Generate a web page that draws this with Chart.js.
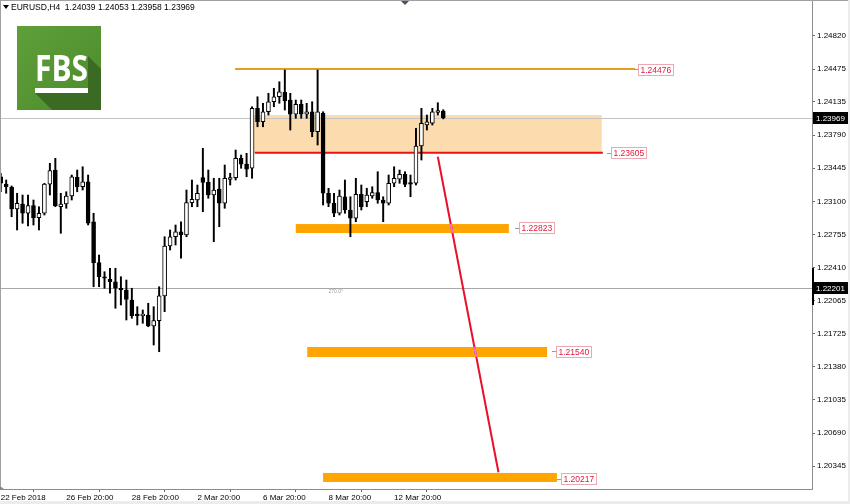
<!DOCTYPE html>
<html><head><meta charset="utf-8">
<script src="https://cdn.jsdelivr.net/npm/chart.js@4.4.1/dist/chart.umd.min.js"></script>
<style>html,body{margin:0;padding:0;background:#fff;overflow:hidden}#wrap{position:relative;width:850px;height:504px}</style>
</head><body><div id="wrap"><canvas id="c" width="850" height="504"></canvas></div>
<script>
// ---------- data ----------
const symbolTitle = 'EURUSD,H4';
const headerValues = ['1.24039', '1.24053', '1.23958', '1.23969'];

const opens  = [1.23356,1.23280,1.23246,1.23020,1.23072,1.22976,1.23055,1.22930,1.22976,1.23280,
                1.23426,1.23044,1.23072,1.23156,1.23350,1.23252,1.23304,1.22888,1.22462,1.22316,
                1.22289,1.22264,1.22196,1.22178,1.22074,1.21918,1.21911,1.21918,1.21804,1.21859,
                1.22116,1.22636,1.22732,1.22784,1.22750,1.23086,1.23114,1.23346,1.23298,1.23166,
                1.23225,1.23080,1.23329,1.23346,1.23548,1.23488,1.23444,1.24068,1.23928,1.24032,
                1.24136,1.24188,1.24234,1.24154,1.24008,1.24109,1.24008,1.24032,1.23824,1.24016,
                1.23184,1.23080,1.22976,1.23148,1.23010,1.22924,1.23173,1.23096,1.23156,1.23190,
                1.23114,1.23080,1.23288,1.23332,1.23381,1.23294,1.23288,1.23676,1.23894,1.23912,
                1.24026,1.24039];
const highs  = [1.23392,1.23322,1.23260,1.23184,1.23166,1.23166,1.23114,1.23044,1.23288,1.23496,
                1.23548,1.23184,1.23200,1.23374,1.23426,1.23460,1.23374,1.22976,1.22542,1.22368,
                1.22404,1.22404,1.22316,1.22282,1.22196,1.22004,1.21970,1.22040,1.22004,1.22212,
                1.22732,1.22802,1.22854,1.22888,1.23218,1.23322,1.23270,1.23652,1.23426,1.23340,
                1.23340,1.23478,1.23392,1.23634,1.23582,1.23600,1.24084,1.24188,1.24120,1.24224,
                1.24276,1.24344,1.24466,1.24224,1.24154,1.24154,1.24120,1.24136,1.24466,1.24032,
                1.23236,1.23184,1.23218,1.23322,1.23148,1.23340,1.23270,1.23236,1.23252,1.23408,
                1.23148,1.23374,1.23460,1.23426,1.23408,1.23374,1.23860,1.24068,1.23998,1.24068,
                1.24126,1.24053];
const lows   = [1.23200,1.23184,1.22940,1.22802,1.22872,1.22844,1.22854,1.22802,1.22958,1.23166,
                1.23044,1.22768,1.23028,1.23114,1.23200,1.23218,1.22854,1.22212,1.22212,1.22196,
                1.22144,1.21988,1.22022,1.21866,1.21884,1.21814,1.21832,1.21796,1.21606,1.21536,
                1.21952,1.22594,1.22646,1.22508,1.22732,1.23044,1.23044,1.22992,1.23132,1.22680,
                1.22836,1.23028,1.23270,1.23322,1.23444,1.23356,1.23340,1.23876,1.23876,1.23998,
                1.24084,1.24120,1.24050,1.23842,1.23964,1.23964,1.23964,1.23772,1.23686,1.23062,
                1.23044,1.22940,1.22958,1.22976,1.22732,1.22888,1.23010,1.23044,1.23132,1.23080,
                1.22888,1.23062,1.23252,1.23288,1.23252,1.23148,1.23270,1.23530,1.23842,1.23894,
                1.23998,1.23958];
const closes = [1.23288,1.23252,1.23020,1.23080,1.22976,1.23055,1.22930,1.22976,1.23280,1.23419,
                1.23055,1.23072,1.23156,1.23356,1.23252,1.23304,1.22872,1.22462,1.22316,1.22300,
                1.22264,1.22196,1.22178,1.22081,1.21911,1.21911,1.21925,1.21804,1.21859,1.22116,
                1.22636,1.22732,1.22784,1.22750,1.23086,1.23121,1.23184,1.23298,1.23166,1.23218,
                1.23080,1.23340,1.23346,1.23548,1.23488,1.23436,1.24068,1.23928,1.24032,1.24136,
                1.24188,1.24240,1.24144,1.24008,1.24109,1.24008,1.24032,1.23824,1.24032,1.23184,
                1.23080,1.22976,1.23156,1.23010,1.22924,1.23173,1.23044,1.23166,1.23190,1.23114,
                1.23080,1.23288,1.23340,1.23381,1.23277,1.23280,1.23676,1.23912,1.23928,1.24032,
                1.24043,1.23969];

const timeTickIndex  = [0, 12, 24, 36, 48, 60, 72];
const timeTickLabels = ['22 Feb 2018', '26 Feb 20:00', '28 Feb 20:00', '2 Mar 20:00', '6 Mar 20:00', '8 Mar 20:00', '12 Mar 20:00'];
const priceTicks = [1.24820, 1.24475, 1.24135, 1.23790, 1.23445, 1.23100, 1.22755, 1.22410,
                    1.22065, 1.21725, 1.21380, 1.21035, 1.20690, 1.20345];
const markedPrices = [1.23969, 1.22201];           // grey price lines + black axis tags

// drawn objects (price values and bar-index spans)
const resistancePrice = 1.24476;  const resistanceSpan = [42.9, 116.1];
const boxTop = 1.23998;           const boxBottom = 1.23605;  const boxSpan = [45.6, 110.0];
const supportPrice = 1.23605;     const supportSpan = [46.5, 110.2];
const targetLabels = [1.22823, 1.21540, 1.20217];
const targetTops    = [1.22864, 1.21585, 1.20275];
const targetBottoms = [1.22771, 1.21481, 1.20181];
const targetStarts  = [54.0, 56.1, 59.0];
const targetEnds    = [93.0, 100.0, 101.8];
const arrowFrom = [80.0, 1.23564];
const arrowTo   = [91.1, 1.20282];
const angleText = '270.0°';

// ---------- chart ----------
const idx = opens.map((_, i) => i);
const bodies = idx.map(i => ({x: i, y: [opens[i], closes[i]]}));
const wicks  = idx.map(i => ({x: i, y: [lows[i], highs[i]]}));
const bodyColors = idx.map(i => closes[i] >= opens[i] ? '#ffffff' : '#000000');

const FONT = '"Liberation Sans", Arial, sans-serif';

function priceTag(ctx, xLeft, yc, text) {
  ctx.font = '8.5px ' + FONT;
  const w = Math.round(ctx.measureText(text).width + 4);
  const l = Math.round(xLeft), t = Math.round(yc - 5.5);
  ctx.fillStyle = '#ffffff'; ctx.fillRect(l, t, w, 11);
  ctx.strokeStyle = '#EEA8B2'; ctx.lineWidth = 1; ctx.strokeRect(l + 0.5, t + 0.5, w, 11);
  ctx.fillStyle = '#E3163C'; ctx.textBaseline = 'middle'; ctx.textAlign = 'left';
  ctx.fillText(text, l + 2.5, t + 6.5);
  ctx.strokeStyle = '#9a9a9a';
  ctx.beginPath(); ctx.moveTo(l - 4, Math.round(yc) + 0.5); ctx.lineTo(l, Math.round(yc) + 0.5); ctx.stroke();
}

const tagGaps = [3, 8, 10, 9, 4];

const overlay = {
  id: 'overlay',
  beforeDraw(chart) {
    const ctx = chart.ctx;
    ctx.save(); ctx.fillStyle = '#ffffff'; ctx.fillRect(0, 0, chart.width, chart.height); ctx.restore();
  },
  beforeDatasetsDraw(chart) {
    const {ctx, scales: {x, y}, chartArea: a} = chart;
    ctx.save();
    ctx.beginPath(); ctx.rect(a.left, a.top, a.right - a.left, a.bottom - a.top); ctx.clip();
    ctx.fillStyle = 'rgba(252, 214, 160, 0.85)';
    const bx1 = x.getPixelForValue(boxSpan[0]), bx2 = x.getPixelForValue(boxSpan[1]);
    const by1 = y.getPixelForValue(boxTop), by2 = y.getPixelForValue(boxBottom);
    ctx.fillRect(bx1, by1, bx2 - bx1, by2 - by1);
    markedPrices.forEach((p, k) => {
      const py = Math.round(y.getPixelForValue(p)) + 0.5;
      ctx.strokeStyle = k === 0 ? '#c4c4c4' : '#a8a8a8'; ctx.lineWidth = 1;
      ctx.beginPath(); ctx.moveTo(a.left, py); ctx.lineTo(a.right, py); ctx.stroke();
    });
    ctx.fillStyle = '#FFA500';
    targetLabels.forEach((_, k) => {
      const x1 = x.getPixelForValue(targetStarts[k]), x2 = x.getPixelForValue(targetEnds[k]);
      const y1 = y.getPixelForValue(targetTops[k]), y2 = y.getPixelForValue(targetBottoms[k]);
      ctx.fillRect(x1, y1, x2 - x1, y2 - y1);
    });
    ctx.strokeStyle = '#E0A11E'; ctx.lineWidth = 2;
    let py = y.getPixelForValue(resistancePrice);
    ctx.beginPath(); ctx.moveTo(x.getPixelForValue(resistanceSpan[0]), py); ctx.lineTo(x.getPixelForValue(resistanceSpan[1]), py); ctx.stroke();
    ctx.strokeStyle = '#EE1111'; ctx.lineWidth = 2;
    py = y.getPixelForValue(supportPrice);
    ctx.beginPath(); ctx.moveTo(x.getPixelForValue(supportSpan[0]), py); ctx.lineTo(x.getPixelForValue(supportSpan[1]), py); ctx.stroke();
    ctx.fillStyle = '#9a9a9a'; ctx.font = '5px ' + FONT; ctx.textBaseline = 'top'; ctx.textAlign = 'left';
    ctx.fillText(angleText, x.getPixelForValue(60), y.getPixelForValue(markedPrices[1]) + 1);
    ctx.restore();
  },
  afterDatasetsDraw(chart) {
    const {ctx, scales: {x, y}} = chart;
    ctx.save();
    const ax1 = x.getPixelForValue(arrowFrom[0]), ay1 = y.getPixelForValue(arrowFrom[1]);
    const ax2 = x.getPixelForValue(arrowTo[0]), ay2 = y.getPixelForValue(arrowTo[1]);
    ctx.strokeStyle = '#E8102A'; ctx.lineWidth = 2;
    ctx.beginPath(); ctx.moveTo(ax1, ay1); ctx.lineTo(ax2, ay2); ctx.stroke();
    targetLabels.forEach((_, k) => {
      const x1 = x.getPixelForValue(targetStarts[k]), x2 = x.getPixelForValue(targetEnds[k]);
      const y1 = y.getPixelForValue(targetTops[k]), y2 = y.getPixelForValue(targetBottoms[k]);
      ctx.save(); ctx.beginPath(); ctx.rect(x1, y1, x2 - x1, y2 - y1); ctx.clip();
      ctx.strokeStyle = '#FF6FD0'; ctx.lineWidth = 2;
      ctx.beginPath(); ctx.moveTo(ax1, ay1); ctx.lineTo(ax2, ay2); ctx.stroke();
      ctx.restore();
    });
    priceTag(ctx, x.getPixelForValue(resistanceSpan[1]) + tagGaps[0], y.getPixelForValue(resistancePrice), resistancePrice.toFixed(5));
    priceTag(ctx, x.getPixelForValue(supportSpan[1]) + tagGaps[1], y.getPixelForValue(supportPrice), supportPrice.toFixed(5));
    targetLabels.forEach((p, k) => {
      priceTag(ctx, x.getPixelForValue(targetEnds[k]) + tagGaps[k + 2], y.getPixelForValue(p), p.toFixed(5));
    });
    ctx.restore();
  },
  afterDraw(chart) {
    const {ctx, scales: {y}, chartArea: a} = chart;
    ctx.save();
    ctx.strokeStyle = '#a0a0a0'; ctx.lineWidth = 1;
    ctx.beginPath(); ctx.moveTo(0, 0.5); ctx.lineTo(chart.width, 0.5); ctx.stroke();
    ctx.beginPath(); ctx.moveTo(0.5, 0); ctx.lineTo(0.5, a.bottom); ctx.stroke();
    ctx.fillStyle = '#ececec';
    ctx.fillRect(0, 501, chart.width, 3); ctx.fillRect(848, 0, 2, chart.height);
    ctx.fillStyle = '#4a5266';
    ctx.beginPath(); ctx.moveTo(401, 1); ctx.lineTo(409, 1); ctx.lineTo(405, 5); ctx.closePath(); ctx.fill();
    ctx.fillStyle = '#8a8a8a';
    ctx.beginPath(); ctx.moveTo(0, a.bottom - 3); ctx.lineTo(4, a.bottom); ctx.lineTo(0, a.bottom); ctx.closePath(); ctx.fill();
    ctx.fillStyle = '#000';
    ctx.beginPath(); ctx.moveTo(3, 5); ctx.lineTo(9, 5); ctx.lineTo(6, 9); ctx.closePath(); ctx.fill();
    ctx.font = '8.5px ' + FONT; ctx.textBaseline = 'middle'; ctx.textAlign = 'left';
    ctx.fillText(symbolTitle + '  ' + headerValues.join(' '), 11, 8);
    ctx.fillStyle = '#000';
    ctx.fillRect(a.right, Math.round(y.getPixelForValue(1.22410)), 2, Math.round(y.getPixelForValue(1.22020) - y.getPixelForValue(1.22410)));
    markedPrices.forEach(p => {
      const py = Math.round(y.getPixelForValue(p));
      ctx.fillStyle = '#000'; ctx.fillRect(a.right + 1, py - 6, 35, 12);
      ctx.fillStyle = '#fff'; ctx.font = '8px ' + FONT; ctx.textBaseline = 'middle';
      ctx.fillText(p.toFixed(5), a.right + 4, py + 0.5);
    });
    const L = 17, T = 26, S = 84;
    const g = ctx.createLinearGradient(L, T, L + S, T + S);
    g.addColorStop(0, '#60A03A'); g.addColorStop(1, '#4B8A2B');
    ctx.fillStyle = g; ctx.fillRect(L, T, S, S);
    ctx.fillStyle = '#3B6B22';
    ctx.beginPath();
    ctx.moveTo(35, 93); ctx.lineTo(52, 110); ctx.lineTo(101, 110); ctx.lineTo(101, 69);
    ctx.lineTo(88, 56); ctx.lineTo(88, 93); ctx.closePath(); ctx.fill();
    ctx.fillStyle = '#ffffff';
    ctx.font = 'bold 36px "Open Sans", "DejaVu Sans", sans-serif';
    ctx.textBaseline = 'alphabetic'; ctx.textAlign = 'left';
    ctx.fillText('FBS', 35, 81, 53);
    ctx.fillRect(35, 88, 53, 5);
    ctx.restore();
  }
};

new Chart(document.getElementById('c'), {
  type: 'bar',
  data: {
    datasets: [
      {data: wicks, backgroundColor: '#000', borderWidth: 0, barThickness: 1.3, grouped: false, order: 2},
      {data: bodies, backgroundColor: bodyColors, borderColor: '#000', borderWidth: 1, borderSkipped: false,
       barThickness: 4, minBarLength: 1.5, grouped: false, order: 1}
    ]
  },
  options: {
    responsive: false, animation: false, events: [],
    layout: {padding: {top: 1, left: 0, right: 0, bottom: 0}},
    plugins: {legend: {display: false}, tooltip: {enabled: false}},
    scales: {
      x: {
        type: 'linear', position: 'bottom', min: -0.128, max: 148.48, offset: false,
        afterBuildTicks: s => { s.ticks = timeTickIndex.map(v => ({value: v})); },
        afterFit: s => { s.height = 15; s.paddingLeft = 0; s.paddingRight = 0; },
        ticks: {autoSkip: false, maxRotation: 0, minRotation: 0, align: 'start', padding: 1, color: '#000',
                font: {family: 'Liberation Sans', size: 8},
                callback: v => { const k = timeTickIndex.indexOf(v); return k >= 0 ? timeTickLabels[k] : ''; }},
        grid: {drawOnChartArea: false, drawTicks: true, tickLength: 3, color: '#666'},
        border: {display: true, color: '#8c8c8c'}
      },
      y: {
        type: 'linear', position: 'right', min: 1.20108, max: 1.25184,
        afterBuildTicks: s => { s.ticks = priceTicks.map(v => ({value: v})); },
        afterFit: s => { s.width = 38; s.paddingTop = 0; s.paddingBottom = 0; },
        ticks: {padding: 2, color: '#000', font: {family: 'Liberation Sans', size: 8}, callback: v => v.toFixed(5)},
        grid: {drawOnChartArea: false, drawTicks: true, tickLength: 3, color: '#666'},
        border: {display: true, color: '#8c8c8c'}
      }
    }
  },
  plugins: [overlay]
});
</script></body></html>
